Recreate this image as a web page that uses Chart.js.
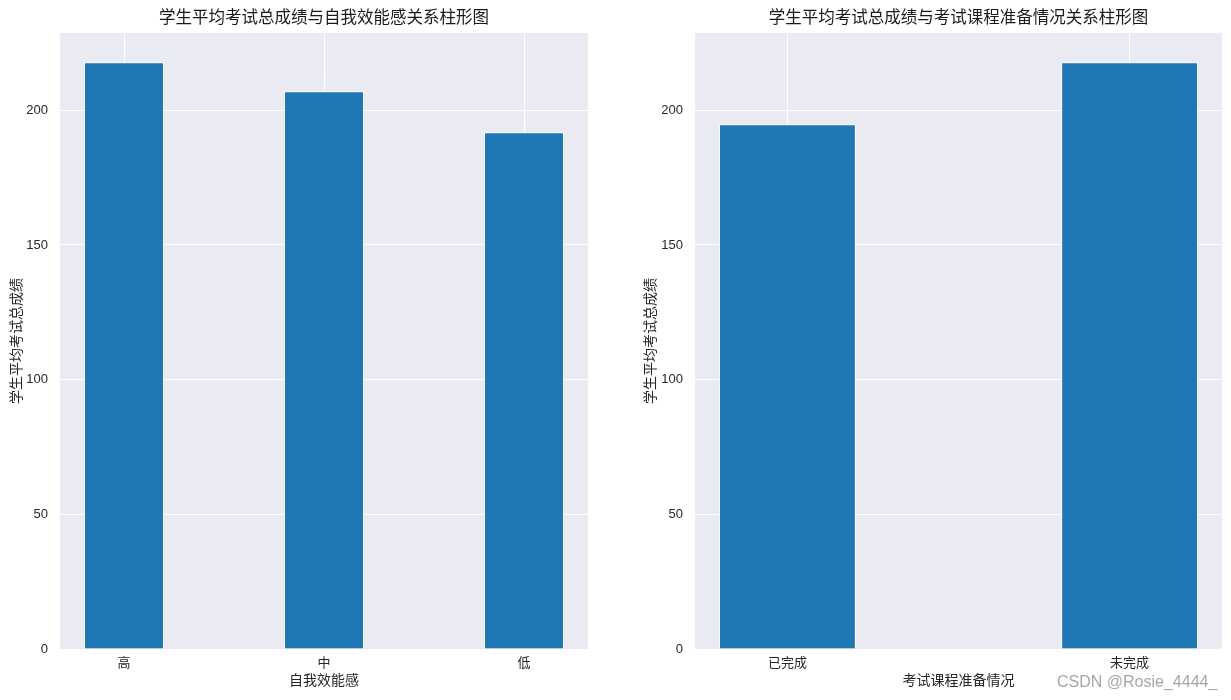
<!DOCTYPE html>
<html>
<head>
<meta charset="utf-8">
<script src="https://cdn.jsdelivr.net/npm/chart.js@4"></script>
<style>
    html, body { margin: 0; padding: 0; background: #fff; }
    body { width: 1231px; height: 700px; position: relative; overflow: hidden; }
    .panel { position: absolute; top: 0; height: 700px; }
    #leftPanel { left: 0; width: 615px; }
    #rightPanel { left: 615px; width: 616px; }
    .watermark {
        position: absolute; left: 1057px; top: 673px;
        font: 16px "Liberation Sans", Arial, sans-serif;
        color: #a6a6a6; white-space: nowrap;
    }
</style>
</head>
<body>
<div class="panel" id="leftPanel"><canvas id="effChart"></canvas></div>
<div class="panel" id="rightPanel"><canvas id="prepChart"></canvas></div>
<div class="watermark">CSDN @Rosie_4444_</div>
<script>
const effCats = ['高', '中', '低'];
const effScores = [217.8, 207.1, 191.8];
const prepCats = ['已完成', '未完成'];
const prepScores = [194.8, 217.8];
const yTicks = [0, 50, 100, 150, 200];

const FONT = '"Liberation Sans", "Noto Sans CJK SC", sans-serif';
const TEXT = '#262626';

// seaborn darkgrid background + title centred over the axes (like matplotlib)
const axesPlugin = {
    id: 'axesBg',
    beforeDraw(chart) {
        const { ctx, chartArea: a } = chart;
        ctx.save();
        ctx.fillStyle = '#eaeaf2';
        ctx.fillRect(a.left, a.top, a.right - a.left, a.bottom - a.top);
        ctx.restore();
    },
    afterDraw(chart, args, o) {
        const { ctx, chartArea: a } = chart;
        ctx.save();
        ctx.fillStyle = '#1a1a1a';
        ctx.font = '16.5px ' + FONT;
        ctx.textAlign = 'center';
        ctx.textBaseline = 'middle';
        ctx.fillText(o.text, (a.left + a.right) / 2, 18);
        ctx.restore();
    }
};

function makeChart(id, cats, values, title, xTitle, opts) {
    const n = cats.length;
    const margin = 0.05 * (n - 1 + 0.4);
    const yMax = Math.max(...values) * 1.05;
    return new Chart(document.getElementById(id), {
        type: 'bar',
        data: {
            datasets: [{
                data: values.map((v, i) => ({ x: i, y: v })),
                backgroundColor: '#1f77b4',
                borderColor: '#ffffff',
                borderWidth: 1,
                barPercentage: 0.4,
                categoryPercentage: 1
            }]
        },
        options: {
            responsive: true,
            maintainAspectRatio: false,
            animation: false,
            layout: { padding: { left: 0, right: opts.padRight, top: 33, bottom: 0 } },
            plugins: {
                legend: { display: false },
                tooltip: { enabled: false },
                title: { display: false },
                axesBg: { text: title }
            },
            scales: {
                x: {
                    type: 'linear',
                    offset: false,
                    min: -0.2 - margin,
                    max: n - 1 + 0.2 + margin,
                    afterBuildTicks: s => { s.ticks = cats.map((c, i) => ({ value: i })); },
                    afterFit: s => { s.height = 51; },
                    grid: { color: '#ffffff', lineWidth: 1, drawTicks: false, offset: false },
                    border: { display: false },
                    ticks: {
                        color: TEXT, padding: 7, maxRotation: 0, autoSkip: false,
                        font: { family: FONT, size: 13 },
                        callback: v => cats[v]
                    },
                    title: {
                        display: true, text: xTitle, color: TEXT,
                        font: { family: FONT, size: 14 },
                        padding: { top: 0, bottom: 10 }
                    }
                },
                y: {
                    min: 0,
                    max: yMax,
                    afterBuildTicks: s => { s.ticks = yTicks.map(v => ({ value: v })); },
                    afterFit: s => { s.width = opts.yWidth; },
                    grid: { color: '#ffffff', lineWidth: 1, drawTicks: false },
                    border: { display: false },
                    ticks: {
                        color: TEXT, padding: 12,
                        font: { family: FONT, size: 13 }
                    },
                    title: {
                        display: true, text: '学生平均考试总成绩', color: TEXT,
                        font: { family: FONT, size: 14 },
                        padding: { top: opts.yTitlePad, bottom: 0 }
                    }
                }
            }
        },
        plugins: [axesPlugin]
    });
}

makeChart('effChart', effCats, effScores,
    '学生平均考试总成绩与自我效能感关系柱形图', '自我效能感',
    { padRight: 27, yWidth: 60, yTitlePad: 9 });
makeChart('prepChart', prepCats, prepScores,
    '学生平均考试总成绩与考试课程准备情况关系柱形图', '考试课程准备情况',
    { padRight: 9, yWidth: 80, yTitlePad: 28 });
</script>
</body>
</html>
